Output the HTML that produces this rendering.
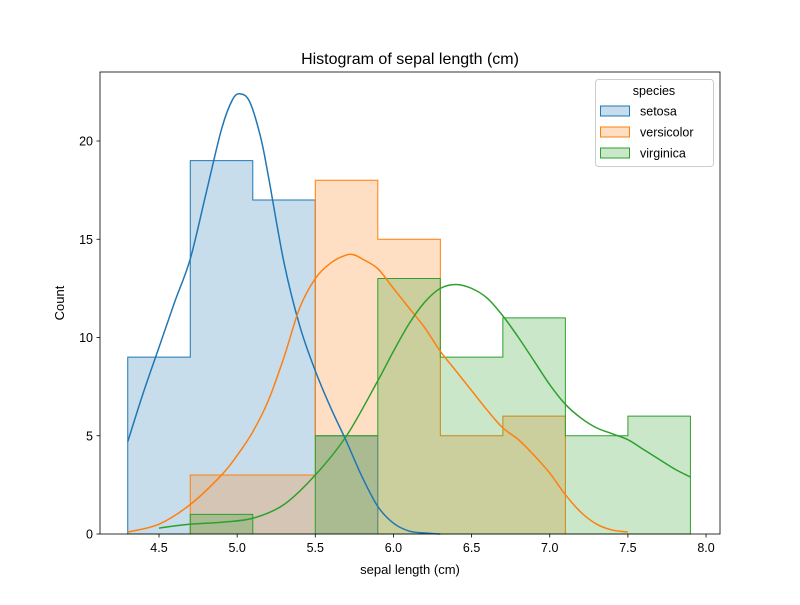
<!DOCTYPE html>
<html><head><meta charset="utf-8"><style>
body{margin:0;background:#fff;font-family:"Liberation Sans",sans-serif}
svg text{font-family:"Liberation Sans","DejaVu Sans",sans-serif;fill:#000}
</style></head><body>
<svg id="chart" width="800" height="600" xmlns="http://www.w3.org/2000/svg"></svg>
<script>
const binEdges=[4.3,4.7,5.1,5.5,5.9,6.3,6.7,7.1,7.5,7.9];
const setosaCounts=[9,19,17,5,0,0,0,0,0];
const versicolorCounts=[0,3,3,18,15,5,6,0,0];
const virginicaCounts=[0,1,0,5,13,9,11,5,6];
const setosaKdeX=[4.3,4.4,4.5,4.6,4.7,4.8,4.9,4.97,5.02,5.08,5.15,5.2,5.3,5.4,5.5,5.6,5.7,5.8,5.9,6.0,6.1,6.2,6.3];
const setosaKdeY=[4.7,7.2,9.5,11.8,14,17.3,20.6,22.1,22.4,22.0,20.2,18.2,13.8,10.6,8.3,6.4,4.7,2.9,1.4,0.55,0.15,0.05,0];
const versiKdeX=[4.3,4.5,4.7,4.9,5.0,5.1,5.2,5.3,5.4,5.5,5.6,5.7,5.75,5.8,5.9,6.0,6.1,6.2,6.3,6.4,6.5,6.6,6.7,6.8,6.9,7.0,7.1,7.2,7.3,7.4,7.5];
const versiKdeY=[0.1,0.5,1.5,3,4,5.2,6.8,9,11.5,13,13.8,14.2,14.2,14.0,13.5,12.5,11.5,10.5,9.3,8.3,7.3,6.3,5.4,4.8,4.0,3.1,2.0,1.1,0.5,0.2,0.1];
const virgKdeX=[4.5,4.7,4.9,5.1,5.3,5.5,5.7,5.9,6.0,6.1,6.2,6.3,6.4,6.5,6.6,6.7,6.8,6.9,7.0,7.1,7.2,7.3,7.4,7.5,7.6,7.7,7.8,7.9];
const virgKdeY=[0.3,0.5,0.6,0.8,1.5,3,5,7.8,9.3,10.7,11.8,12.5,12.7,12.5,12,11.1,10,8.8,7.6,6.6,5.9,5.4,5.1,4.8,4.3,3.8,3.3,2.9];
const xTicks=[4.5,5.0,5.5,6.0,6.5,7.0,7.5,8.0];
const yTicks=[0,5,10,15,20];

const svg=document.getElementById('chart');
const NS='http://www.w3.org/2000/svg';
const X=v=>159+(v-4.5)*156.3;
const Y=v=>534-v*19.65;
function mk(tag,attrs,parent){const e=document.createElementNS(NS,tag);for(const k in attrs)e.setAttribute(k,attrs[k]);(parent||svg).appendChild(e);return e;}

const title=mk('text',{x:410,y:64,'text-anchor':'middle','font-size':16});
title.textContent='Histogram of sepal length (cm)';



const series=[
 {name:'setosa',c:'#1f77b4',counts:setosaCounts,kx:setosaKdeX,ky:setosaKdeY},
 {name:'versicolor',c:'#ff7f0e',counts:versicolorCounts,kx:versiKdeX,ky:versiKdeY},
 {name:'virginica',c:'#2ca02c',counts:virginicaCounts,kx:virgKdeX,ky:virgKdeY}];

function stepPath(counts){
 let d='M'+X(binEdges[0])+','+Y(0);
 for(let i=0;i<counts.length;i++){d+=' L'+X(binEdges[i])+','+Y(counts[i])+' L'+X(binEdges[i+1])+','+Y(counts[i]);}
 d+=' L'+X(binEdges[binEdges.length-1])+','+Y(0);
 return d;
}
function smooth(p){
 let d='M'+p[0][0]+','+p[0][1];
 for(let i=0;i<p.length-1;i++){
  const p0=p[i-1]||p[i],p1=p[i],p2=p[i+1],p3=p[i+2]||p2;
  const c1=[p1[0]+(p2[0]-p0[0])/6,p1[1]+(p2[1]-p0[1])/6];
  const c2=[p2[0]-(p3[0]-p1[0])/6,p2[1]-(p3[1]-p1[1])/6];
  d+=' C'+c1[0]+','+c1[1]+' '+c2[0]+','+c2[1]+' '+p2[0]+','+p2[1];
 }
 return d;
}
series.forEach(s=>{
 const f=mk('path',{d:stepPath(s.counts)+' Z',fill:s.c,'fill-opacity':0.25,stroke:s.c,'stroke-width':1});
 
 
});
series.forEach(s=>{
 const pts=s.kx.map((x,i)=>[X(x),Y(s.ky[i])]);
 const l=mk('path',{d:smooth(pts),fill:'none',stroke:s.c,'stroke-width':1.5,'stroke-linejoin':'round'});
 
 
});

const frame=mk('rect',{x:100,y:72,width:620,height:462,fill:'none',stroke:'#000','stroke-width':0.8});



xTicks.forEach(t=>{
 mk('line',{x1:X(t),x2:X(t),y1:534,y2:537.5,stroke:'#000','stroke-width':0.8});
 const tx=mk('text',{x:X(t),y:552,'text-anchor':'middle','font-size':12.5});
 tx.textContent=t.toFixed(1);
 
 
});
yTicks.forEach(t=>{
 mk('line',{x1:96.5,x2:100,y1:Y(t),y2:Y(t),stroke:'#000','stroke-width':0.8});
 const tx=mk('text',{x:93,y:Y(t)+4.5,'text-anchor':'end','font-size':12.5});
 tx.textContent=t;
 
 
});
const xl=mk('text',{x:410,y:574,'text-anchor':'middle','font-size':13});
xl.textContent='sepal length (cm)';


const yl=mk('text',{x:0,y:0,'text-anchor':'middle','font-size':13,transform:'translate(64,303) rotate(-90)'});
yl.textContent='Count';



const lg=mk('g',{});


mk('rect',{x:595.5,y:79.5,width:118,height:87,rx:3,fill:'#fff','fill-opacity':0.8,stroke:'#ccc'},lg);
const lt=mk('text',{x:654,y:95,'text-anchor':'middle','font-size':12.5},lg);
lt.textContent='species';
series.forEach((s,i)=>{
 const y=111+i*21;
 const r=mk('rect',{x:600.5,y:y-5,width:29,height:10,fill:s.c,'fill-opacity':0.25,stroke:s.c},lg);
 
 
 const t=mk('text',{x:640,y:y+4.5,'font-size':12.5},lg);
 t.textContent=s.name;
 
 
});
</script>
</body></html>
